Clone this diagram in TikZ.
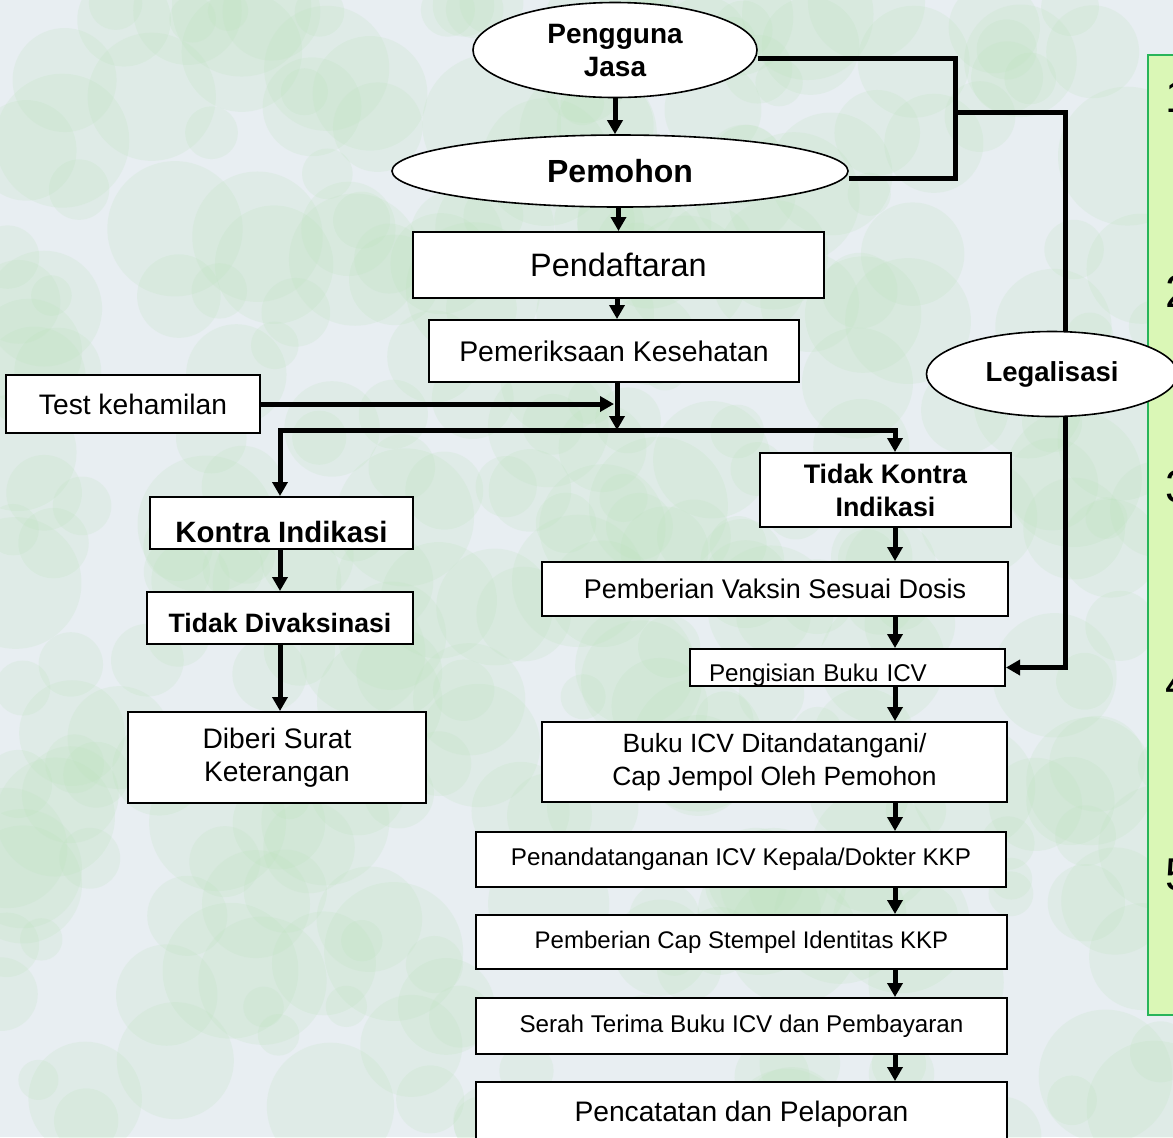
\documentclass[tikz,border=0pt]{standalone}
\usepackage{fontspec}
\setmainfont{Liberation Sans}
\usetikzlibrary{shapes.geometric,arrows.meta}

\definecolor{latar}{RGB}{232,238,242}
\definecolor{bercak}{RGB}{186,226,186}
\definecolor{panel}{RGB}{218,247,182}
\definecolor{garispanel}{RGB}{40,180,90}

\tikzset{
  kotak/.style={draw, fill=white, line width=1pt, inner sep=0pt, align=center},
  elips/.style={ellipse, draw, fill=white, line width=0.8pt, inner sep=0pt, align=center},
  garis/.style={line width=2.5pt},
  panah/.style={line width=2.5pt, -{Triangle[length=7pt,width=7.5pt]}},
  turun/.style={text depth=0pt, text height=#1},
}

\begin{document}
\begin{tikzpicture}[x=0.5pt, y=-0.5pt]
\useasboundingbox (0,0) rectangle (1173,1137);
\clip (0,0) rectangle (1173,1137);

% latar belakang berbercak
\fill[latar] (0,0) rectangle (1173,1137);
\pgfmathsetseed{11}
\foreach \i in {1,...,320}{
  \pgfmathsetmacro\bx{rnd*1173}
  \pgfmathsetmacro\by{rnd*1137}
  \pgfmathsetmacro\br{20+rnd*50}
  \fill[bercak, opacity=0.18] (\bx,\by) circle[radius=\br];
}

% panel kanan
\draw[garispanel, fill=panel, line width=1pt] (1148,55) rectangle (1200,1015);
\foreach \n/\yy in {1/112, 2/307, 3/502, 4/699, 5/890}
  \node[anchor=base west, inner sep=0pt, font=\fontsize{23}{27}\selectfont] (no\n) at (1165,\yy) {\n};

% node
\node[elips, minimum width=142pt, minimum height=47.5pt, font=\bfseries\fontsize{14}{16.5}\selectfont] (pengguna) at (615,50) {Pengguna\\Jasa};
\node[elips, minimum width=228pt, minimum height=36pt, font=\bfseries\fontsize{16}{19}\selectfont] (pemohon) at (620,171) {Pemohon};
\node[kotak, minimum width=205.5pt, minimum height=33pt, font=\fontsize{16.2}{19}\selectfont] (daftar) at (618.5,265) {Pendaftaran};
\node[kotak, minimum width=185pt, minimum height=31pt, font=\fontsize{14.2}{17}\selectfont] (periksa) at (614,351) {Pemeriksaan Kesehatan};
\node[kotak, minimum width=127pt, minimum height=29pt, font=\fontsize{14.1}{17}\selectfont] (test) at (133,404) {Test kehamilan};
\node[elips, minimum width=125.5pt, minimum height=42.5pt, font=\bfseries\fontsize{13.75}{16.5}\selectfont] (legal) at (1052,374) {Legalisasi};

\node[kotak, turun=19.5pt, minimum width=131.5pt, minimum height=26pt, font=\bfseries\fontsize{14.7}{17}\selectfont] (kontra) at (281.5,523) {Kontra Indikasi};
\node[kotak, turun=14.5pt, minimum width=133pt, minimum height=26pt, font=\bfseries\fontsize{13.3}{16}\selectfont] (tdvaks) at (280,618) {Tidak Divaksinasi};
\node[kotak, minimum width=149pt, minimum height=45.5pt, font=\fontsize{14.1}{16.5}\selectfont] (surat) at (277,757.5) {Diberi Surat\\Keterangan};

\node[kotak, minimum width=125.5pt, minimum height=37pt, font=\bfseries\fontsize{13.4}{16.5}\selectfont] (tkontra) at (885.5,490) {Tidak Kontra\\Indikasi};
\node[kotak, minimum width=233pt, minimum height=27pt, font=\fontsize{13.5}{16}\selectfont] (vaksin) at (775,589) {Pemberian Vaksin Sesuai Dosis};
\node[kotak, turun=13.7pt, text width=138.5pt, inner xsep=9.5pt, align=left, minimum height=18.5pt, font=\fontsize{12.1}{14.5}\selectfont] (isi) at (847.5,667.5) {Pengisian Buku ICV};
\node[kotak, minimum width=232.5pt, minimum height=40pt, font=\fontsize{13.2}{16.5}\selectfont] (buku) at (774.5,762) {Buku ICV Ditandatangani/\\Cap Jempol Oleh Pemohon};
\node[kotak, minimum width=265pt, minimum height=27.5pt, font=\fontsize{12.1}{14.5}\selectfont] (tanda) at (741,859.5) {Penandatanganan ICV Kepala/Dokter KKP};
\node[kotak, minimum width=265.5pt, minimum height=27pt, font=\fontsize{12}{14.5}\selectfont] (stempel) at (741.5,942) {Pemberian Cap Stempel Identitas KKP};
\node[kotak, minimum width=265.5pt, minimum height=28pt, font=\fontsize{12.1}{14.5}\selectfont] (serah) at (741.5,1026) {Serah Terima Buku ICV dan Pembayaran};
\node[kotak, minimum width=265.5pt, minimum height=32pt, font=\fontsize{14.1}{17}\selectfont] (catat) at (741.5,1114) {Pencatatan dan Pelaporan};

% titik bantu
\coordinate (sambung) at (955,112);
\coordinate (atas) at (1065,112);
\coordinate (cabang) at (617,430);
\coordinate (kiri) at (280,430);
\coordinate (kolom) at (895,430);

% penghubung
\draw[garis] ([yshift=-4pt]pengguna.east) -| (sambung) |- ([yshift=-3.5pt]pemohon.east);
\draw[garis] (sambung) -- (atas) -- (atas |- legal.north);
\draw[panah] (atas |- legal.south) |- (isi.east);

\draw[panah] (pengguna.south) -- (pengguna.south |- pemohon.north);
\draw[panah] (daftar.north |- pemohon.south) -- (daftar.north);
\draw[panah] (daftar.south -| cabang) -- (periksa.north -| cabang);
\draw[panah] (periksa.south -| cabang) -- (cabang);
\draw[panah, shorten >=1.5pt] (test.east) -- (test.east -| cabang);

\draw[panah] (cabang) -| (kiri |- kontra.north);
\draw[panah] (cabang) -| (kolom |- tkontra.north);
\draw[panah] (kontra.south -| kiri) -- (tdvaks.north -| kiri);
\draw[panah] (tdvaks.south -| kiri) -- (surat.north -| kiri);
\foreach \a/\b in {tkontra/vaksin, vaksin/isi, isi/buku, buku/tanda, tanda/stempel, stempel/serah, serah/catat}
  \draw[panah] (\a.south -| kolom) -- (\b.north -| kolom);
\end{tikzpicture}
\end{document}
